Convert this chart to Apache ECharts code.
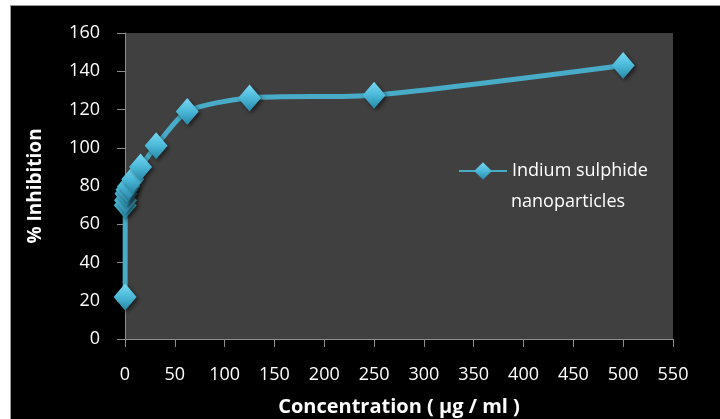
<!DOCTYPE html>
<html>
<head>
<meta charset="utf-8">
<script src="https://cdn.jsdelivr.net/npm/echarts@6/dist/echarts.min.js"></script>
<style>
  html, body { margin: 0; padding: 0; background: #ffffff; width: 720px; height: 419px; overflow: hidden; }
  #chart { position: absolute; left: 11px; top: 6px; width: 709px; height: 413px; background: #000000; outline: 1px solid #9a9a9a; }
</style>
</head>
<body>
<div id="chart"></div>
<script>
// Concentration (µg/ml) and % inhibition for the dilution series
const concentrations = [0.12, 0.24, 0.49, 0.98, 1.95, 3.9, 7.8, 15.6, 31.25, 62.5, 125, 250, 500];
const inhibition = [22, 70, 72.5, 76, 78, 80, 83.5, 90, 101, 119, 126, 127.5, 143];
const seriesName = 'Indium sulphide';
const seriesNameLine2 = 'nanoparticles';
const xTicks = { min: 0, max: 550, step: 50 };
const yTicks = { min: 0, max: 160, step: 20 };

const points = concentrations.map((c, i) => [c, inhibition[i]]);

const font = '"Open Sans", Lato, sans-serif';
const axisGray = '#8c8c8c';
const lineColor = '#48abc8';

const markerFill = new echarts.graphic.LinearGradient(0, 0, 0, 1, [
  { offset: 0, color: '#78d8f4' },
  { offset: 0.5, color: '#4bb8d8' },
  { offset: 1, color: '#2688a6' }
]);

const chart = echarts.init(document.getElementById('chart'), null, { renderer: 'canvas' });
chart.setOption({
  backgroundColor: '#000000',
  animation: false,
  grid: {
    left: 114, right: 47, top: 27, bottom: 80,
    outerBoundsMode: 'none',
    containLabel: false,
    show: true, backgroundColor: '#404040', borderWidth: 0
  },
  legend: {
    show: true,
    left: 442, top: 151,
    orient: 'vertical',
    itemWidth: 48, itemHeight: 22,
    textStyle: { color: '#ffffff', fontFamily: font, fontSize: 18 },
    data: [seriesName]
  },
  graphic: [{
    type: 'text',
    left: 500, top: 187,
    style: { text: seriesNameLine2, fill: '#ffffff', font: '18px ' + font }
  }],
  xAxis: {
    type: 'value',
    min: xTicks.min, max: xTicks.max, interval: xTicks.step,
    name: 'Concentration ( µg / ml )',
    nameLocation: 'middle',
    nameGap: 58,
    nameTextStyle: { color: '#ffffff', fontFamily: font, fontSize: 20, fontWeight: 'bold' },
    axisLine: { show: true, onZero: false, lineStyle: { color: axisGray, width: 1 } },
    axisTick: { show: true, inside: false, length: 8, lineStyle: { color: axisGray } },
    axisLabel: { color: '#ffffff', fontFamily: font, fontSize: 18, margin: 27 },
    splitLine: { show: false }
  },
  yAxis: {
    type: 'value',
    min: yTicks.min, max: yTicks.max, interval: yTicks.step,
    name: '% Inhibition',
    nameLocation: 'middle',
    nameGap: 80,
    nameRotate: 90,
    nameTextStyle: { color: '#ffffff', fontFamily: font, fontSize: 19, fontWeight: 'bold' },
    axisLine: { show: true, onZero: false, lineStyle: { color: axisGray, width: 1 } },
    axisTick: { show: true, inside: false, length: 8, lineStyle: { color: axisGray } },
    axisLabel: { color: '#ffffff', fontFamily: font, fontSize: 18, margin: 25 },
    splitLine: { show: false }
  },
  series: [{
    name: seriesName,
    type: 'line',
    data: points,
    smooth: 0.25,
    lineStyle: { color: lineColor, width: 5 },
    symbol: 'diamond',
    symbolSize: [23, 27],
    itemStyle: {
      color: markerFill,
      borderWidth: 0,
      shadowColor: 'rgba(0,0,0,0.55)',
      shadowBlur: 4,
      shadowOffsetX: 2,
      shadowOffsetY: 2
    }
  }]
});
</script>
</body>
</html>
